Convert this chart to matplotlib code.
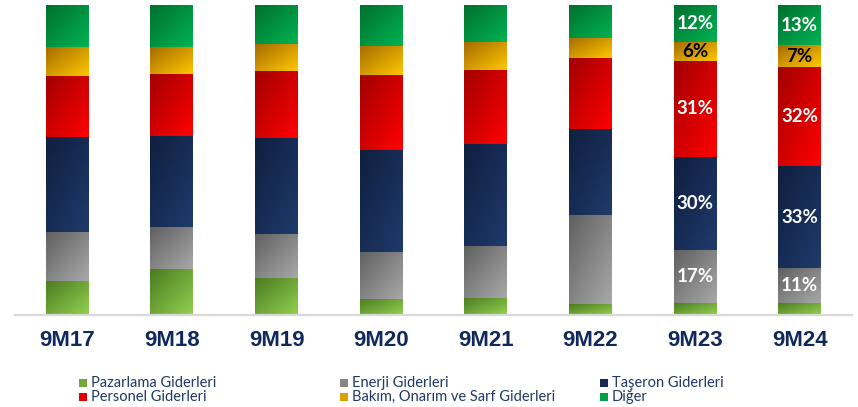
import matplotlib
matplotlib.use("Agg")
import matplotlib.pyplot as plt
from matplotlib.colors import LinearSegmentedColormap
from matplotlib.patches import Rectangle
import numpy as np

# cost breakdown, % of total operating expenses
periods = ["9M17", "9M18", "9M19", "9M20", "9M21", "9M22", "9M23", "9M24"]
pazarlama = [11.0, 14.8, 11.9, 5.2, 5.5, 3.5, 4, 4]
enerji    = [15.9, 13.5, 14.2, 15.2, 16.8, 28.7, 17, 11]
taseron   = [30.5, 29.4, 31.1, 32.9, 32.9, 27.8, 30, 33]
personel  = [19.7, 20.0, 21.5, 24.2, 23.9, 22.9, 31, 32]
bakim     = [9.4, 8.7, 8.7, 9.4, 9.0, 6.5, 6, 7]
diger     = [13.5, 13.6, 12.6, 13.1, 11.9, 10.6, 12, 13]

labels = ["Pazarlama Giderleri", "Enerji Giderleri", "Taşeron Giderleri",
          "Personel Giderleri", "Bakım, Onarım ve Sarf Giderleri", "Diğer"]
series = [pazarlama, enerji, taseron, personel, bakim, diger]
labelled = ["9M23", "9M24"]

# (dark, light) ends of the diagonal fill for each series
shades = [("#4b7b20", "#92d050"),
          ("#606060", "#a8a8a8"),
          ("#0f1f3f", "#1f3a6c"),
          ("#a20000", "#ff0000"),
          ("#a56c00", "#ffc600"),
          ("#006f2e", "#00b352")]
legend_cols = ["#72a83a", "#858585", "#162c55", "#e00000", "#e0a000", "#00a045"]
text_cols = ["white", "white", "white", "white", "black", "white"]
navy = "#10295c"

W, H = 858, 407


def gradient_fill(ax, patch, dark, light):
    x0, y0 = patch.get_x(), patch.get_y()
    w, h = patch.get_width(), patch.get_height()
    xx, yy = np.meshgrid(np.linspace(0, 1, 40), np.linspace(0, 1, 80))
    t = (xx + (1 - yy)) / 2
    cmap = LinearSegmentedColormap.from_list("seg", [dark, light])
    ax.imshow(t, cmap=cmap, extent=(x0, x0 + w, y0, y0 + h), origin="lower",
              aspect="auto", interpolation="bilinear", zorder=3)


fig = plt.figure(figsize=(W / 100, H / 100), dpi=100)
ax = fig.add_axes([15 / W, 1 - 315 / H, (852 - 15) / W, 310 / H])

x = np.arange(len(periods))
bottom = np.zeros(len(periods))
for i, vals in enumerate(series):
    vals = np.array(vals, dtype=float)
    bars = ax.bar(x, vals, 0.41, bottom=bottom, color=shades[i][1],
                  linewidth=0, zorder=2)
    for j, b in enumerate(bars):
        gradient_fill(ax, b, *shades[i])
        if periods[j] in labelled and i > 0:
            ax.text(x[j], bottom[j] + vals[j] / 2, f"{vals[j]:.0f}%",
                    ha="center", va="center", color=text_cols[i],
                    fontsize=13.5, fontweight="bold",
                    family="Lato", zorder=5)
    bottom += vals

ax.set_xlim(-0.5, len(periods) - 0.5)
ax.set_ylim(0, 100)
ax.set_xticks(x, periods)
ax.tick_params(axis="x", length=0, pad=11)
ax.set_yticks([])
for lab in ax.get_xticklabels():
    lab.set_fontsize(16)
    lab.set_fontweight("bold")
    lab.set_color(navy)
    lab.set_family("Liberation Sans")
for s in ["top", "left", "right"]:
    ax.spines[s].set_visible(False)
ax.spines["bottom"].set_color("#d9d9d9")
ax.spines["bottom"].set_linewidth(1.6)
ax.spines["bottom"].set_zorder(4)

# legend laid out in two rows of three
cols_x = [79, 340, 600]
rows_y = [383, 397]
for k, name in enumerate(labels):
    cx = cols_x[k % 3]
    cy = rows_y[k // 3]
    fig.add_artist(Rectangle((cx / W, 1 - (cy + 4) / H), 8 / W, 8 / H,
                             transform=fig.transFigure,
                             facecolor=legend_cols[k], edgecolor="none"))
    fig.text((cx + 12) / W, 1 - cy / H, name, ha="left", va="center",
             fontsize=10.5, color="#1f3864", family="Lato")

fig.savefig("out.png", dpi=100)
